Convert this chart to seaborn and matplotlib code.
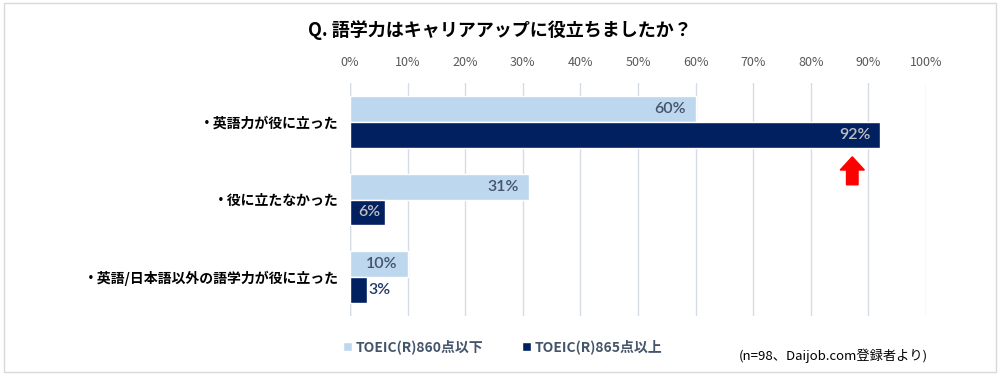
import pandas as pd
import numpy as np
import matplotlib.pyplot as plt
import seaborn as sns
from matplotlib.patches import Rectangle, FancyArrow

# Data
answers = ["・英語力が役に立った", "・役に立たなかった", "・英語/日本語以外の語学力が役に立った"]
groups = ["TOEIC(R)860点以下", "TOEIC(R)865点以上"]
low_scores = [60, 31, 10]
high_scores = [92, 6, 3]
ticks = [0, 10, 20, 30, 40, 50, 60, 70, 80, 90, 100]
highlight_value = 87.2  # where the red arrow sits under the 92% bar

df = pd.DataFrame({
    "answer": answers * 2,
    "group": [groups[0]] * 3 + [groups[1]] * 3,
    "value": low_scores + high_scores,
})

sns.set_theme(style="white")
plt.rcParams["font.family"] = ["Noto Sans CJK JP", "DejaVu Sans"]

colors = ["#BDD7EE", "#002060"]

fig = plt.figure(figsize=(10, 3.74), dpi=100)
ax = fig.add_axes([0.35, 0.155, 0.576, 0.623])

sns.barplot(data=df, y="answer", x="value", hue="group", orient="h",
            palette=colors, width=0.667, saturation=1, ax=ax, legend=True)

ax.set_xlim(0, 100)
ax.set_xticks(ticks)
ax.set_xticklabels([f"{t}%" for t in ticks], color="#595959", fontsize=9)
ax.xaxis.tick_top()
ax.tick_params(axis="x", length=0, pad=10)
ax.tick_params(axis="y", length=0, pad=8)
ax.set_xlabel("")
ax.set_ylabel("")
for lab in ax.get_yticklabels():
    lab.set_fontweight("bold")
    lab.set_fontsize(10)
    lab.set_color("black")
ax.grid(axis="x", color="#D6DCE5", linewidth=1)
ax.set_axisbelow(True)
for s in ax.spines.values():
    s.set_visible(False)
ax.axvline(0, color="#D6DCE5", linewidth=1, zorder=0)

# bar labels
lab_font = dict(fontsize=11.5, family=["Lato", "DejaVu Sans"], fontweight="semibold")
for i, cont in enumerate(ax.containers):
    for bar in cont:
        w = bar.get_width()
        yc = bar.get_y() + bar.get_height() / 2
        if i == 0:
            ax.annotate(f"{w:.0f}%", (w, yc), xytext=(-7, 0), textcoords="offset points",
                        ha="right", va="center", color="#44546A", **lab_font)
        elif w >= 5:
            pad = -7 if w > 20 else -3
            ax.annotate(f"{w:.0f}%", (w, yc), xytext=(pad, 0), textcoords="offset points",
                        ha="right", va="center", color="#BFBFBF", **lab_font)
        else:
            ax.annotate(f"{w:.0f}%", (w, yc), xytext=(1, 0), textcoords="offset points",
                        ha="left", va="center", color="#203864", **lab_font)

# red arrow
ax.add_patch(FancyArrow(highlight_value, 0.81, 0, -0.36, width=2.0, head_width=4.2,
                        head_length=0.17, length_includes_head=True,
                        color="#FF0000", zorder=5))

# legend
handles, labels = ax.get_legend_handles_labels()
ax.legend_.remove()
leg = fig.legend(handles, labels, loc="center", bbox_to_anchor=(0.503, 0.072), ncol=2,
                 frameon=False, handlelength=0.6, handleheight=0.6, handletextpad=0.3,
                 columnspacing=2.8, fontsize=10)
for t in leg.get_texts():
    t.set_fontweight("bold")
    t.set_color("#44546A")

fig.text(0.5, 0.92, "Q. 語学力はキャリアアップに役立ちましたか？", ha="center", va="center",
         fontsize=13, fontweight="bold", color="black")
fig.text(0.833, 0.05, "(n=98、Daijob.com登録者より)", ha="center", va="center",
         fontsize=9.5, color="black")

fig.patches.append(Rectangle((0.004, 0.006), 0.992, 0.986, transform=fig.transFigure,
                             fill=False, edgecolor="#D9D9D9", linewidth=1))

fig.savefig("out.png", dpi=100)
